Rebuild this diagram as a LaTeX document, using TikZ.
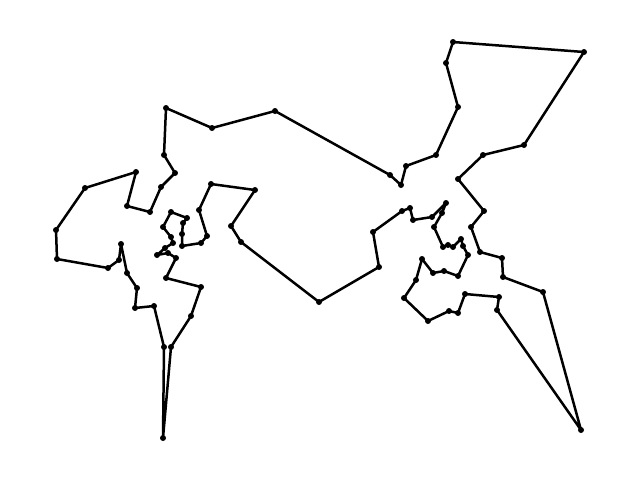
\documentclass[tikz,border=0pt]{standalone}
\begin{document}
\begin{tikzpicture}[x=1pt,y=-1pt,
  tour/.style={line width=2.5pt,line join=round,line cap=round,black},
  vertex/.style={black}]
\useasboundingbox (0,0) rectangle (640,480);
\foreach \px/\py [count=\i] in {584/52,453/42,446/63,458/107,436/155,406/166,401/185,390/175,275/111,212/128,
166/108,164/155,175/173,161/187,150/212,127/206,136/172,85/188,56/230,57/259,
108/268,119/260,121/244,127/273,137/288,135/308,154/306,164/347,163/438,171/347,
191/316,201/287,166/278,176/258,168/253,157/255,165/248,173/243,171/237,163/227,
171/212,187/218,183/223,182/234,182/246,201/243,207/236,199/210,211/184,255/190,
231/226,241/242,319/302,379/267,373/232,402/211,410/208,413/220,432/217,446/203,
442/213,434/227,443/247,448/245,453/247,461/239,463/246,468/255,458/276,444/271,
433/273,422/259,416/280,404/298,428/321,449/311,458/313,465/294,499/297,497/310,
581/430,543/292,503/277,502/258,480/252,471/227,484/211,458/179,483/155,524/145}
  \coordinate (p\i) at (\px,\py);
\draw[tour] (p1) \foreach \i in {2,...,90} {-- (p\i)} -- cycle;
\foreach \i in {1,...,90} \fill[vertex] (p\i) circle (3);
\end{tikzpicture}
\end{document}
